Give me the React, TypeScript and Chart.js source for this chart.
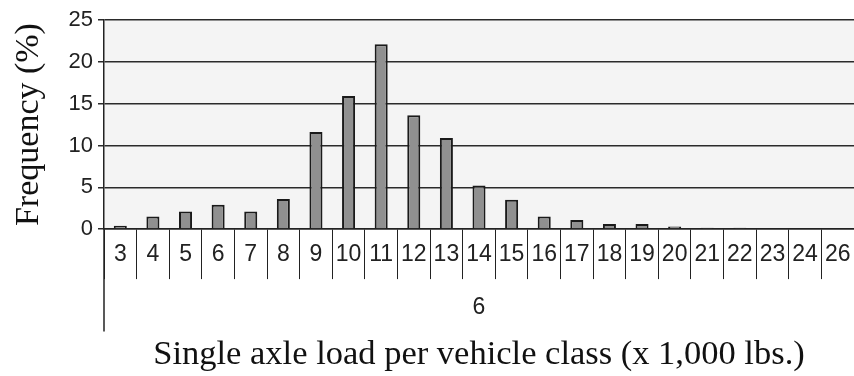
import React, { useEffect, useRef } from "react";
import { Chart, registerables } from "chart.js";

Chart.register(...registerables);

const categories = ["3", "4", "5", "6", "7", "8", "9", "10", "11", "12", "13", "14", "15", "16", "17", "18", "19", "20", "21", "22", "23", "24", "26"];
const frequency = [0.4, 1.5, 2.1, 2.9, 2.1, 3.6, 11.6, 15.9, 22.1, 13.6, 10.9, 5.2, 3.5, 1.5, 1.1, 0.6, 0.6, 0.3, 0.15, 0.15, 0, 0, 0];
const groupLabel = "6";
const yTitle = "Frequency (%)";
const xTitle = "Single axle load per vehicle class (x 1,000 lbs.)";
const yMax = 25;
const yStep = 5;

const sans = "'Liberation Sans', Arial, sans-serif";
const serif = "'Liberation Serif', 'Times New Roman', serif";

const plotBackground = {
  id: "plotBackground",
  beforeDraw(chart: any) {
    const { ctx, chartArea } = chart;
    ctx.save();
    ctx.fillStyle = "#f4f4f4";
    ctx.fillRect(chartArea.left, chartArea.top, chartArea.right - chartArea.left, chartArea.bottom - chartArea.top);
    ctx.restore();
  },
};

const axisExtension = {
  id: "axisExtension",
  afterDraw(chart: any) {
    const { ctx, chartArea } = chart;
    const xs = chart.scales.x;
    ctx.save();
    ctx.strokeStyle = "#222";
    ctx.lineWidth = 1.5;
    ctx.beginPath();
    ctx.moveTo(chartArea.left, chartArea.bottom);
    ctx.lineTo(chartArea.left, xs.bottom);
    ctx.stroke();
    ctx.restore();
  },
};

export default function App() {
  const ref = useRef<HTMLCanvasElement>(null);
  useEffect(() => {
    if (!ref.current) return;
    const chart = new Chart(ref.current, {
      type: "bar",
      data: {
        labels: categories,
        datasets: [
          {
            data: frequency,
            backgroundColor: "#909090",
            borderColor: "#1a1a1a",
            borderWidth: 2,
            categoryPercentage: 1,
            barPercentage: 0.4,
          },
        ],
      },
      options: {
        animation: false,
        responsive: true,
        maintainAspectRatio: false,
        layout: { padding: { top: 20, left: 0, right: 0, bottom: 0 } },
        plugins: {
          legend: { display: false },
          tooltip: { enabled: false },
          title: {
            display: true,
            position: "bottom",
            fullSize: false,
            text: xTitle,
            color: "#111",
            font: { family: serif, size: 34.5, weight: "normal" },
            padding: { top: 3, bottom: 0 },
          },
        },
        scales: {
          x: {
            grid: {
              offset: true,
              drawOnChartArea: false,
              drawTicks: true,
              tickLength: 50,
              tickColor: "#222",
              tickWidth: 1,
            },
            border: { display: true, color: "#222", width: 1.5 },
            ticks: {
              color: "#222",
              padding: -38,
              maxRotation: 0,
              autoSkip: false,
              font: { family: sans, size: 23 },
            },
            title: {
              display: true,
              text: groupLabel,
              color: "#222",
              font: { family: sans, size: 23 },
              padding: { top: 0, bottom: 10.5 },
            },
            afterFit(scale: any) {
              scale.height = 102.5;
            },
          },
          y: {
            min: 0,
            max: yMax,
            ticks: {
              stepSize: yStep,
              color: "#222",
              padding: 5,
              font: { family: sans, size: 22 },
            },
            grid: {
              color: "#2a2a2a",
              lineWidth: 1.5,
              tickLength: 6,
              tickColor: "#2a2a2a",
            },
            border: { display: true, color: "#222", width: 1.5 },
            title: {
              display: true,
              text: yTitle,
              color: "#111",
              font: { family: serif, size: 34, weight: "normal" },
              padding: { top: 9, bottom: 0 },
            },
            afterFit(scale: any) {
              scale.width = 104;
            },
          },
        },
      },
      plugins: [plotBackground, axisExtension],
    });
    return () => chart.destroy();
  }, []);
  return (
    <div style={{ position: "fixed", left: 0, top: 0, width: 854, height: 376, background: "#fff" }}>
      <canvas ref={ref} />
    </div>
  );
}
